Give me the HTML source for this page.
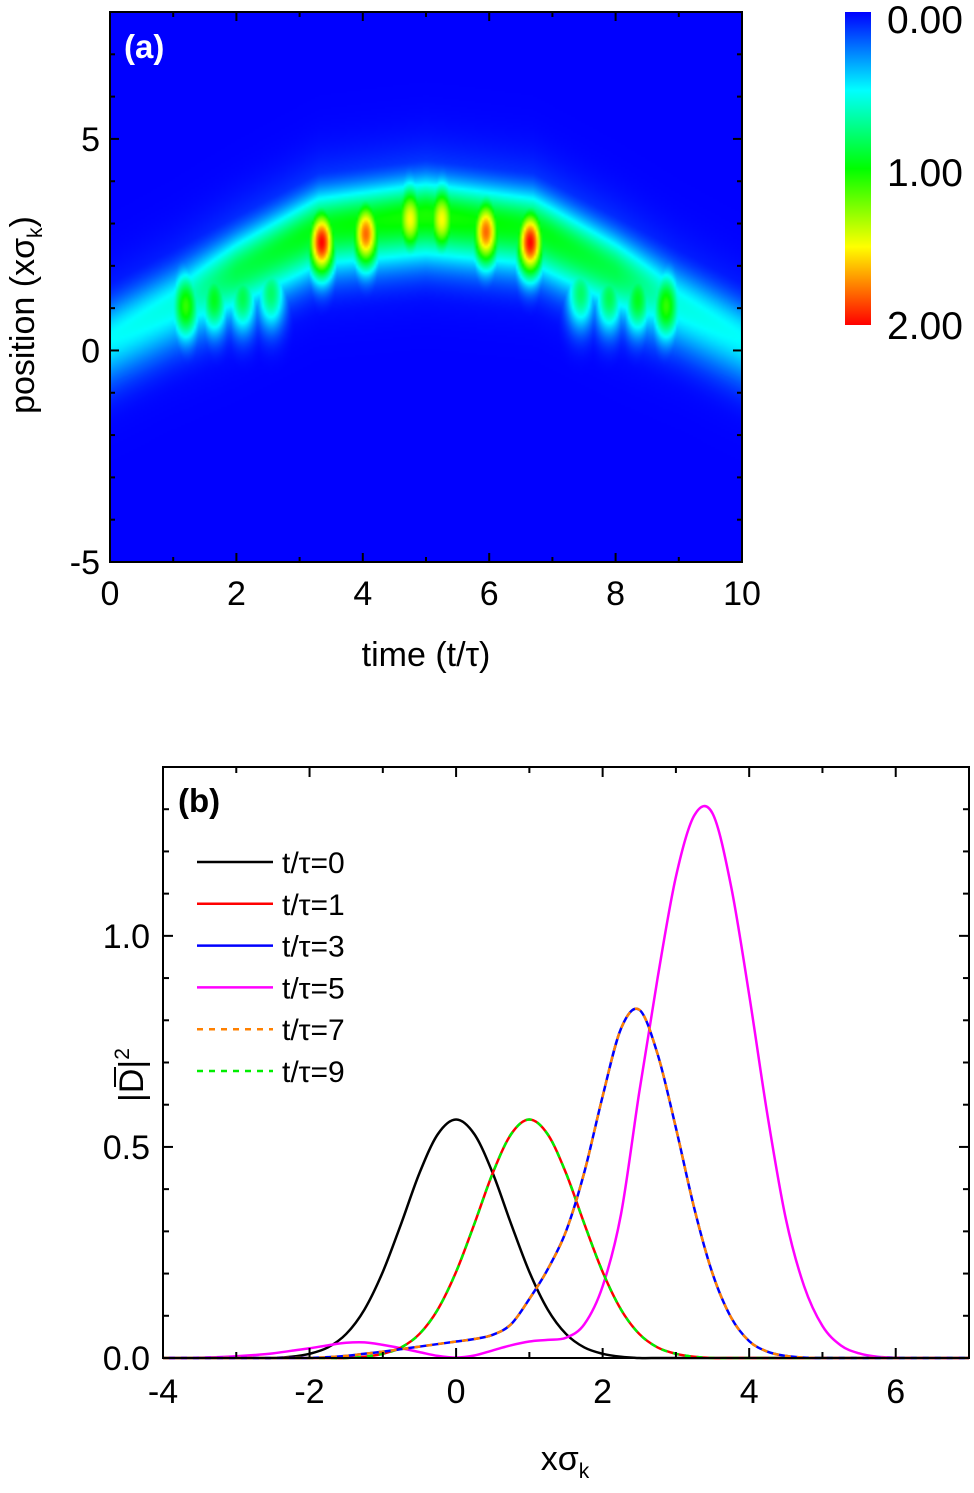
<!DOCTYPE html>
<html><head><meta charset="utf-8"><style>
html,body{margin:0;padding:0;background:#fff;}
svg text{font-family:"Liberation Sans",sans-serif;}
</style></head><body>
<svg id="fig" width="974" height="1488" viewBox="0 0 974 1488" xmlns="http://www.w3.org/2000/svg">
<foreignObject x="110" y="12" width="632" height="550">
<canvas id="hm" width="316" height="275" style="width:632px;height:550px;display:block" xmlns="http://www.w3.org/1999/xhtml"></canvas>
</foreignObject>
<defs><linearGradient id="cb" x1="0" y1="0" x2="0" y2="1">
<stop offset="0" stop-color="#0000ff"/><stop offset="0.25" stop-color="#00ffff"/><stop offset="0.5" stop-color="#00ff00"/><stop offset="0.75" stop-color="#ffff00"/><stop offset="1" stop-color="#ff0000"/></linearGradient></defs>
<rect x="845" y="12" width="26" height="313" fill="url(#cb)"/>
<text x="887" y="33" font-size="39">0.00</text>
<text x="887" y="186" font-size="39">1.00</text>
<text x="887" y="339" font-size="39">2.00</text>
<g id="axA"></g>
<text x="124" y="58" font-size="33" font-weight="bold" fill="#fff">(a)</text>
<text x="426" y="666" font-size="34" text-anchor="middle">time (t/τ)</text>
<text transform="translate(34,315) rotate(-90)" font-size="34" text-anchor="middle">position (xσ<tspan font-size="21" dy="8">k</tspan><tspan dy="-8">)</tspan></text>
<g id="axB"></g>
<text x="178" y="812" font-size="33" font-weight="bold">(b)</text>
<text x="565" y="1470" font-size="34" text-anchor="middle">xσ<tspan font-size="21" dy="8">k</tspan></text>
<g transform="translate(143,1075) rotate(-90)">
<text x="0" y="0" font-size="34" text-anchor="middle">|D|<tspan font-size="21" dy="-14">2</tspan></text>
<line x1="-12" y1="-28" x2="8" y2="-28" stroke="#000" stroke-width="2"/>
</g>
<g id="legend"></g>
</svg>
<script>
// ---------- panel (a) data ----------
const bandT = [0, 1.2, 3.3, 5, 6.7, 8.8, 10];
const bandC = [0.3, 1.25, 2.9, 3.2, 2.9, 1.25, 0.3];
const ampT = [0,1,2,3,4,5,6,7,8,9,10];
const ampV = [0.5,0.55,0.85,0.95,1.0,1.05,1.0,0.95,0.85,0.55,0.5];
const blobT = [1.2,1.65,2.1,2.55,3.35,4.05,4.75,5.25,5.95,6.65,7.45,7.9,8.35,8.8];
const blobY = [1.05,1.2,1.25,1.35,2.55,2.75,3.1,3.1,2.8,2.55,1.35,1.25,1.2,1.05];
const blobA = [1.1,0.95,0.85,0.8,2.0,1.8,1.5,1.5,1.8,2.0,0.8,0.85,0.95,1.1];
const xTicksA = [0,2,4,6,8,10];
const yTicksA = [-5,0,5];
// ---------- panel (b) data ----------
const xs = [];
for (let i=0;i<=44;i++) xs.push(-4+0.25*i);
const black = [0,0,0,0,0,0,0,0.003,0.010,0.025,0.057,0.115,0.204,0.318,0.438,0.530,0.565,0.530,0.438,0.318,0.204,0.115,0.057,0.025,0.010,0.003,0,0,0,0,0,0,0,0,0,0,0,0,0,0,0,0,0,0,0];
const red = [0,0,0,0,0,0,0,0,0,0,0,0.003,0.010,0.025,0.057,0.115,0.204,0.318,0.438,0.530,0.565,0.530,0.438,0.318,0.204,0.115,0.057,0.025,0.010,0.003,0,0,0,0,0,0,0,0,0,0,0,0,0,0,0];
const blue = [0,0,0,0,0,0,0,0,0,0.002,0.005,0.010,0.015,0.021,0.027,0.033,0.039,0.045,0.055,0.080,0.140,0.210,0.300,0.440,0.620,0.780,0.825,0.720,0.545,0.355,0.200,0.097,0.040,0.015,0.005,0.001,0,0,0,0,0,0,0,0,0];
const magenta = [0,0,0.001,0.002,0.004,0.007,0.011,0.017,0.023,0.030,0.036,0.037,0.031,0.023,0.014,0.005,0.001,0.006,0.018,0.030,0.039,0.043,0.048,0.080,0.170,0.340,0.630,0.900,1.140,1.285,1.290,1.120,0.860,0.575,0.330,0.170,0.076,0.030,0.011,0.003,0.001,0,0,0,0];
const orange = blue.slice();
const green = red.slice();
const xTicksB = [-4,-2,0,2,4,6];
const yTicksB = [0,0.5,1.0];
const legendLabels = ["t/τ=0","t/τ=1","t/τ=3","t/τ=5","t/τ=7","t/τ=9"];

const NS="http://www.w3.org/2000/svg";
function mk(tag,attrs,parent){const e=document.createElementNS(NS,tag);for(const k in attrs)e.setAttribute(k,attrs[k]);parent.appendChild(e);return e;}
function interp(xa,ya,x){if(x<=xa[0])return ya[0];for(let i=1;i<xa.length;i++){if(x<=xa[i]){const f=(x-xa[i-1])/(xa[i]-xa[i-1]);return ya[i-1]+f*(ya[i]-ya[i-1]);}}return ya[ya.length-1];}

// ---- panel (a) axes ----
const aX0=110,aX1=742,aY0=12,aY1=562;
const ax=t=>aX0+(t-0)/10*(aX1-aX0);
const ay=v=>aY1-(v+5)/13*(aY1-aY0);
function jet(v){let n=Math.max(0,Math.min(1,v/2));const st=[[0,0,0,255],[0.25,0,255,255],[0.5,0,255,0],[0.75,255,255,0],[1,255,0,0]];
for(let i=1;i<st.length;i++){if(n<=st[i][0]){const f=(n-st[i-1][0])/(st[i][0]-st[i-1][0]);return [0,1,2].map(k=>Math.round(st[i-1][k+1]+f*(st[i][k+1]-st[i-1][k+1])));}}return [255,0,0];}
(function(){
const cv=document.getElementById('hm');const ctx=cv.getContext('2d');const W=cv.width,H=cv.height;
const img=ctx.createImageData(W,H);
for(let j=0;j<H;j++){const y=8-(j+0.5)/H*13;
for(let i=0;i<W;i++){const t=(i+0.5)/W*10;
const c=interp(bandT,bandC,t);const a=interp(ampT,ampV,t);
const d=y-c;const s=d>0?0.6:0.75;
let v=a*Math.exp(-d*d/(2*s*s));
v=Math.max(v,0.25*a*Math.exp(-d*d/(2*0.95*0.95)));
for(let k=0;k<blobT.length;k++){const dt=t-blobT[k],dy=y-blobY[k];
const b=blobA[k]*Math.exp(-dt*dt/(2*0.16*0.16)-dy*dy/(2*0.58*0.58));if(b>v)v=b;}
const col=jet(v);const p=(j*W+i)*4;img.data[p]=col[0];img.data[p+1]=col[1];img.data[p+2]=col[2];img.data[p+3]=255;}}
ctx.putImageData(img,0,0);})();
const gA=document.getElementById('axA');
mk('rect',{x:aX0,y:aY0,width:aX1-aX0,height:aY1-aY0,fill:'none',stroke:'#000','stroke-width':2},gA);
for(let t=0;t<=10;t++){const maj=t%2===0,L=maj?9:5,x=ax(t);
mk('line',{x1:x,y1:aY1,x2:x,y2:aY1-L,stroke:'#000','stroke-width':2},gA);
mk('line',{x1:x,y1:aY0,x2:x,y2:aY0+L,stroke:'#000','stroke-width':2},gA);}
for(let v=-5;v<=8;v++){const maj=v%5===0,L=maj?9:5,y=ay(v);
mk('line',{x1:aX0,y1:y,x2:aX0+L,y2:y,stroke:'#000','stroke-width':2},gA);
mk('line',{x1:aX1,y1:y,x2:aX1-L,y2:y,stroke:'#000','stroke-width':2},gA);}
xTicksA.forEach(t=>{const e=mk('text',{x:ax(t),y:605,'font-size':34,'text-anchor':'middle'},gA);e.textContent=t;

});
yTicksA.forEach(v=>{const e=mk('text',{x:100,y:ay(v)+12,'font-size':34,'text-anchor':'end'},gA);e.textContent=v;

});

// ---- panel (b) ----
const bX0=163,bX1=969,bY0=767,bY1=1358;
const bx=x=>bX0+(x+4)/11*(bX1-bX0);
const by=v=>bY1-v/1.4*(bY1-bY0);
const gB=document.getElementById('axB');
function spline(ys){let pts=xs.map((x,i)=>[bx(x),by(ys[i])]);let d='M'+pts[0][0].toFixed(2)+','+pts[0][1].toFixed(2);
for(let i=0;i<pts.length-1;i++){const p0=pts[Math.max(0,i-1)],p1=pts[i],p2=pts[i+1],p3=pts[Math.min(pts.length-1,i+2)];
const c1=[p1[0]+(p2[0]-p0[0])/6,p1[1]+(p2[1]-p0[1])/6],c2=[p2[0]-(p3[0]-p1[0])/6,p2[1]-(p3[1]-p1[1])/6];
d+=` C${c1[0].toFixed(2)},${c1[1].toFixed(2)} ${c2[0].toFixed(2)},${c2[1].toFixed(2)} ${p2[0].toFixed(2)},${p2[1].toFixed(2)}`;}return d;}
const series=[[black,'#000',null,'curve-t0'],[magenta,'#ff00ff',null,'curve-t5'],[red,'#ff0000',null,'curve-t1'],[green,'#00ee00','6,6','curve-t9'],[blue,'#0000ff',null,'curve-t3'],[orange,'#ff8000','6,6','curve-t7']];
series.forEach(s=>{const a={d:spline(s[0]),fill:'none',stroke:s[1],'stroke-width':2.5};if(s[2])a['stroke-dasharray']=s[2];
const e=mk('path',a,gB);

});
mk('rect',{x:bX0,y:bY0,width:bX1-bX0,height:bY1-bY0,fill:'none',stroke:'#000','stroke-width':2},gB);
for(let x=-4;x<=7;x++){const maj=x%2===0,L=maj?10:6,X=bx(x);
mk('line',{x1:X,y1:bY1,x2:X,y2:bY1-L,stroke:'#000','stroke-width':2},gB);
mk('line',{x1:X,y1:bY0,x2:X,y2:bY0+L,stroke:'#000','stroke-width':2},gB);}
for(let k=0;k<=14;k++){const v=k/10,maj=k%5===0,L=maj?10:6,Y=by(v);
mk('line',{x1:bX0,y1:Y,x2:bX0+L,y2:Y,stroke:'#000','stroke-width':2},gB);
mk('line',{x1:bX1,y1:Y,x2:bX1-L,y2:Y,stroke:'#000','stroke-width':2},gB);}
xTicksB.forEach(x=>{const e=mk('text',{x:bx(x),y:1403,'font-size':34,'text-anchor':'middle'},gB);e.textContent=x;

});
yTicksB.forEach(v=>{const e=mk('text',{x:150,y:by(v)+12,'font-size':34,'text-anchor':'end'},gB);e.textContent=v.toFixed(1);

});
const lg=document.getElementById('legend');
const lcol=['#000','#ff0000','#0000ff','#ff00ff','#ff8000','#00ee00'];
legendLabels.forEach((lab,i)=>{const y=862+i*41.8;
const g=mk('g',{},lg);


const a={x1:197,y1:y,x2:273,y2:y,stroke:lcol[i],'stroke-width':2.5};if(i>=4)a['stroke-dasharray']='6,6';mk('line',a,g);
const t=mk('text',{x:282,y:y+11,'font-size':30},g);t.textContent=lab;});
</script>
</body></html>
